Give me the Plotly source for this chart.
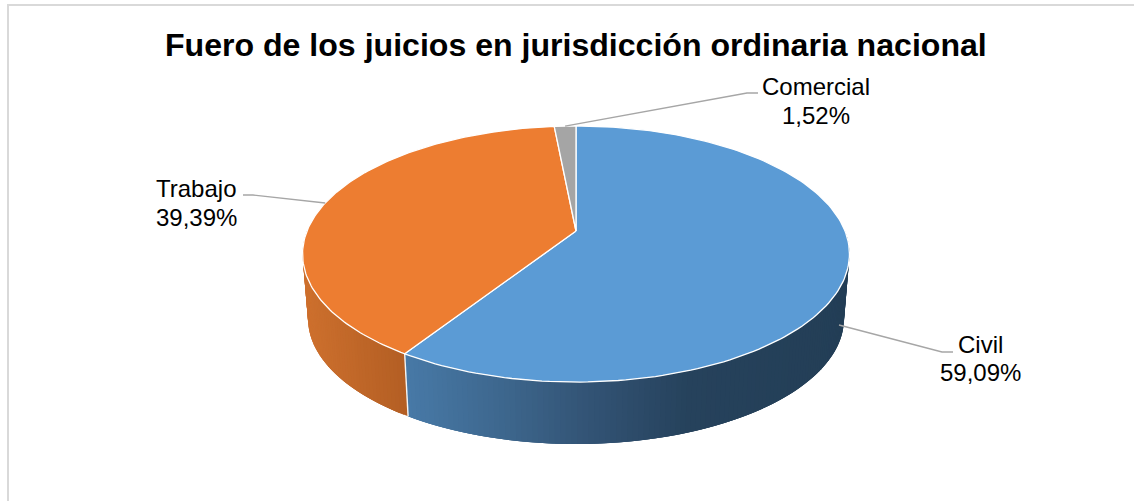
import numpy as np
import plotly.graph_objects as go

# --- data ---
categories = ["Civil", "Trabajo", "Comercial"]
shares = [59.09, 39.39, 1.52]
share_labels = ["59,09%", "39,39%", "1,52%"]
title_text = "Fuero de los juicios en jurisdicción ordinaria nacional"

# --- styles ---
top_colors = {"Civil": "#5B9BD5", "Trabajo": "#ED7D31", "Comercial": "#A5A5A5"}
# side wall gradient stops by pixel x: (x, r, g, b)
side_stops = {
    "Civil": [(405, 72, 122, 168), (500, 62, 104, 143), (580, 52, 86, 120), (690, 38, 66, 92), (850, 35, 62, 86)],
    "Trabajo": [(300, 207, 113, 46), (405, 180, 95, 36)],
}

# --- projection of the tilted pie, in pixel space ---
CX, CY = 576.0, 231.0
A, B, K = 269.0, 123.9, 0.1797
S, D0 = 0.98, 65.0


def top(theta):
    w = 1 + K * np.cos(theta)
    return CX + A * np.sin(theta) / w, CY - B * np.cos(theta) / w


def bottom(theta):
    w = 1 + K * np.cos(theta)
    return CX + S * A * np.sin(theta) / w, CY + D0 - S * B * np.cos(theta) / w


def side_color(name, x):
    st = side_stops[name]
    xs = [p[0] for p in st]
    rgb = [np.interp(x, xs, [p[i] for p in st]) for i in (1, 2, 3)]
    return "rgb(%d,%d,%d)" % tuple(int(round(v)) for v in rgb)


edges = np.radians(np.concatenate([[0], np.cumsum(shares)]) * 3.6)
fig = go.Figure()

# side wall strips (front half only); each strip overlaps the next to avoid seams
WALL_FROM, WALL_TO = np.radians(90), np.radians(270)
for i, name in enumerate(categories):
    a0, a1 = max(edges[i], WALL_FROM), min(edges[i + 1], WALL_TO)
    if a0 >= a1 or name not in side_stops:
        continue
    steps = np.linspace(a0, a1, int((a1 - a0) / np.radians(1.0)) + 2)
    dt = steps[1] - steps[0]
    # paint so that later strips cover the overlap of earlier ones
    for t0 in steps[:-1]:
        seg = np.linspace(t0, min(t0 + 3 * dt, a1), 4)
        xt, yt = top(seg)
        xb, yb = bottom(seg[::-1])
        xm = (top(np.array([t0]))[0][0] + bottom(np.array([t0]))[0][0]) / 2
        col = side_color(name, xm)
        fig.add_trace(go.Scatter(
            x=list(xt) + list(xb) + [xt[0]], y=list(yt) + list(yb) + [yt[0]],
            mode="lines", fill="toself", fillcolor=col,
            line=dict(color=col, width=0), hoverinfo="skip", showlegend=False))

# seam between wall pieces
seam = edges[1]
x0, y0 = top(seam)
x1, y1 = bottom(seam)
fig.add_trace(go.Scatter(x=[x0, x1], y=[y0, y1], mode="lines",
                         line=dict(color="#F4F4F4", width=1.4), hoverinfo="skip", showlegend=False))

# top surface
for i, name in enumerate(categories):
    arc = np.linspace(edges[i], edges[i + 1], 160)
    x, y = top(arc)
    fig.add_trace(go.Scatter(
        x=[CX] + list(x) + [CX], y=[CY] + list(y) + [CY],
        mode="lines", fill="toself", fillcolor=top_colors[name], name=name,
        line=dict(color="#FFFFFF", width=1.3), hoverinfo="skip", showlegend=False))

# leader lines: start on the slice, then an elbow and a short run to the label
mids = (edges[:-1] + edges[1:]) / 2
sx, sy = top(mids)
start = {"Civil": (839, 325), "Trabajo": (sx[1], sy[1]), "Comercial": (sx[2], sy[2])}
elbow = {"Civil": ((942, 352), (953, 352)), "Trabajo": ((253, 195), (243, 195)), "Comercial": ((747, 93), (758, 93))}
for name in categories:
    pts = [start[name], *elbow[name]]
    fig.add_trace(go.Scatter(x=[p[0] for p in pts], y=[p[1] for p in pts], mode="lines",
                             line=dict(color="#A6A6A6", width=1.4), hoverinfo="skip", showlegend=False))

# labels: name and share are placed as two tight lines
label_pos = {"Civil": (980, 344, 372), "Trabajo": (196, 188, 217), "Comercial": (816, 86, 115)}
label_font = dict(family="Liberation Sans", size=24, color="#000000")
annotations = []
for i, n in enumerate(categories):
    lx, ly1, ly2 = label_pos[n]
    annotations.append(dict(x=lx, y=ly1, xref="x", yref="y", text=n, showarrow=False, font=label_font))
    annotations.append(dict(x=lx, y=ly2, xref="x", yref="y", text=share_labels[i], showarrow=False, font=label_font))
annotations.append(dict(x=576, y=45, xref="x", yref="y", text=f"<b>{title_text}</b>", showarrow=False,
                        font=dict(family="Liberation Sans", size=32.1, color="#000000")))

# outer frame: top and left edges are visible
shapes = [dict(type="line", x0=8, x1=8, y0=5, y1=501, line=dict(color="#D9D9D9", width=2)),
          dict(type="line", x0=7, x1=1134, y0=5, y1=5, line=dict(color="#D9D9D9", width=2))]

fig.update_layout(
    width=1134, height=501, margin=dict(l=0, r=0, t=0, b=0),
    paper_bgcolor="#FFFFFF", plot_bgcolor="#FFFFFF",
    xaxis=dict(range=[0, 1134], visible=False, fixedrange=True),
    yaxis=dict(range=[501, 0], visible=False, fixedrange=True),
    annotations=annotations, shapes=shapes, showlegend=False)

fig.write_html("out.html", config=dict(displayModeBar=False), default_height=501, default_width=1134,
               post_script="document.body.style.margin='0';document.body.style.overflow='hidden';")
